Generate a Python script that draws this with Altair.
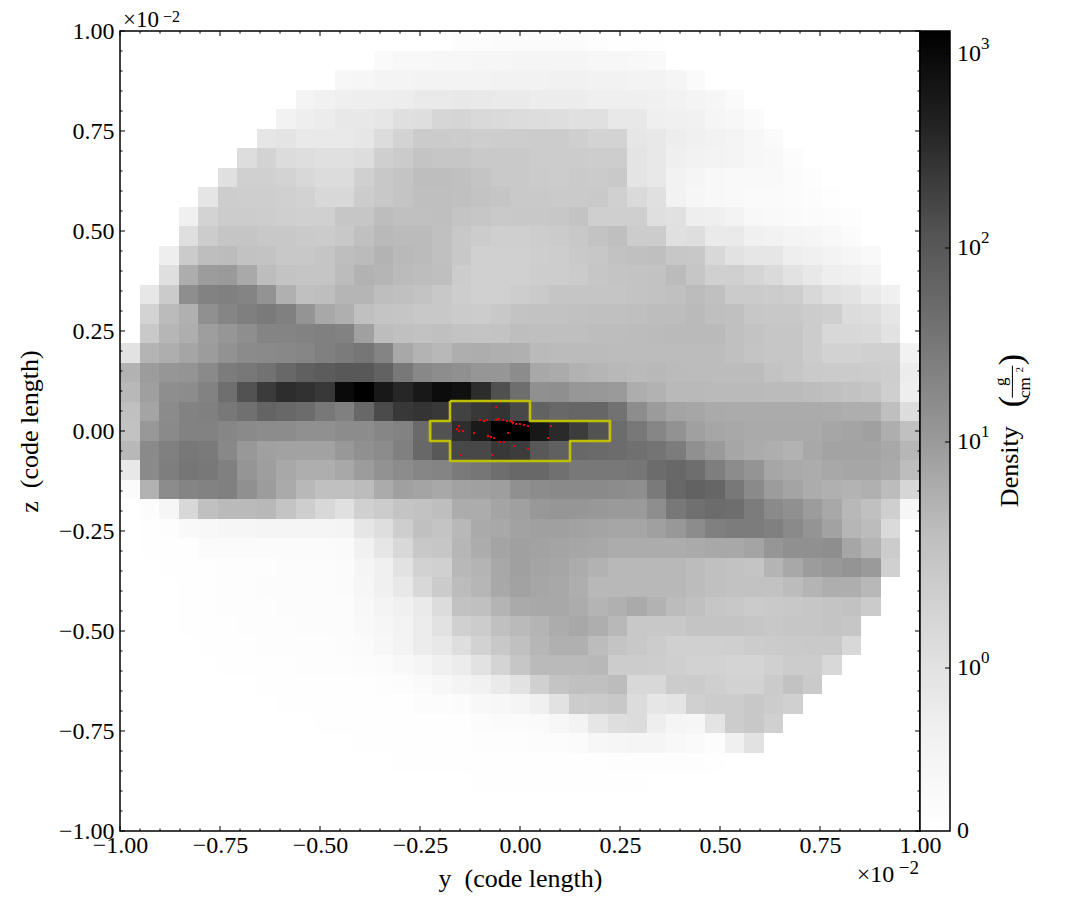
import numpy as np
import pandas as pd
import altair as alt

# Grey shades: (first column, shades); anything else is blank
row_00 = (17, [0xfc,0xfc,0xfb,0xfb,0xfb,0xfb,0xfb,0xfd,0xfe,0xfe,0xfe])
row_01 = (13, [0xfa,0xf8,0xf8,0xf7,0xf7,0xf6,0xf6,0xf5,0xf5,0xf5,0xf5,0xf7,0xf7,0xf8,0xf9])
row_02 = (11, [0xf7,0xf6,0xf4,0xf4,0xf3,0xf3,0xf3,0xf3,0xf2,0xf2,0xf2,0xf1,0xf1,0xf2,0xf2,0xf3,0xf3,0xf5,0xfa])
row_03 = (9, [0xf4,0xf1,0xef,0xee,0xee,0xed,0xea,0xea,0xe8,0xe9,0xea,0xea,0xec,0xec,0xec,0xef,0xef,0xef,0xf0,0xf2,0xf4,0xf6,0xfa])
row_04 = (8, [0xf2,0xee,0xec,0xe8,0xe8,0xe6,0xdf,0xde,0xd6,0xd5,0xd9,0xda,0xdc,0xdd,0xde,0xe0,0xe0,0xe8,0xe8,0xef,0xf0,0xf1,0xf5,0xf7,0xfa])
row_05 = (7, [0xe6,0xe4,0xe9,0xe9,0xe9,0xe6,0xdc,0xd3,0xcb,0xcb,0xcc,0xce,0xcd,0xcd,0xcc,0xcc,0xcf,0xd3,0xd3,0xe6,0xe8,0xed,0xf0,0xf2,0xf4,0xf7,0xfa])
row_06 = (6, [0xdd,0xd3,0xdc,0xde,0xe0,0xe0,0xdd,0xcf,0xcb,0xc4,0xc6,0xc6,0xc9,0xc9,0xc9,0xcc,0xcc,0xcc,0xcd,0xcd,0xe4,0xe8,0xef,0xf2,0xf3,0xf4,0xf7,0xf8,0xfc])
row_07 = (5, [0xe0,0xd0,0xd0,0xd3,0xd8,0xdc,0xdc,0xd0,0xc8,0xc4,0xbe,0xbe,0xc0,0xc4,0xc9,0xc9,0xcb,0xcc,0xca,0xcb,0xc9,0xe4,0xe8,0xf2,0xf5,0xf8,0xf9,0xf9,0xf9,0xfb,0xfd])
row_08 = (4, [0xe5,0xcd,0xce,0xce,0xd0,0xd2,0xd8,0xd8,0xcc,0xc8,0xc4,0xbf,0xbf,0xc0,0xc3,0xc5,0xc9,0xc9,0xca,0xca,0xc9,0xd0,0xda,0xe0,0xf2,0xf6,0xf8,0xf9,0xfa,0xfa,0xfb,0xfc,0xfe])
row_09 = (3, [0xf0,0xd3,0xcc,0xcc,0xcd,0xcf,0xd0,0xd0,0xc6,0xc6,0xbd,0xc0,0xc0,0xbf,0xc4,0xc6,0xc9,0xc8,0xc8,0xc7,0xc3,0xcf,0xcf,0xcf,0xdf,0xe1,0xee,0xef,0xf3,0xf8,0xf9,0xfa,0xfb,0xfc,0xfd])
row_10 = (3, [0xdf,0xcc,0xc5,0xc5,0xc8,0xc8,0xca,0xcb,0xc8,0xc0,0xb9,0xbb,0xbb,0xc0,0xc8,0xcc,0xcf,0xcf,0xcd,0xcb,0xc8,0xc3,0xbf,0xcc,0xcc,0xe0,0xde,0xea,0xea,0xf0,0xf2,0xf4,0xf5,0xf8,0xfb])
row_11 = (2, [0xee,0xcb,0xbe,0xbc,0xc2,0xc3,0xc8,0xc8,0xc5,0xbe,0xbb,0xb3,0xb9,0xbb,0xc0,0xc8,0xd0,0xd0,0xd0,0xce,0xcd,0xc9,0xc7,0xc2,0xc0,0xbf,0xc7,0xc8,0xd8,0xe2,0xe6,0xe6,0xee,0xf0,0xf3,0xf6,0xf9])
row_12 = (2, [0xdf,0xad,0x9c,0x9a,0xa9,0xbd,0xc3,0xc5,0xc5,0xbc,0xb2,0xb5,0xbb,0xbd,0xbf,0xcc,0xd0,0xd0,0xd0,0xcd,0xcd,0xcb,0xc6,0xc4,0xc3,0xc2,0xbb,0xc6,0xd0,0xd0,0xd5,0xda,0xe2,0xe8,0xee,0xf0,0xf3])
row_13 = (1, [0xe7,0xcb,0x8e,0x82,0x80,0x84,0x93,0xb0,0xc0,0xbe,0xb5,0xb5,0xbe,0xc0,0xc3,0xc8,0xcd,0xd0,0xd0,0xcd,0xca,0xc5,0xc5,0xc5,0xc5,0xc3,0xc2,0xc0,0xbc,0xc0,0xcb,0xcb,0xcc,0xce,0xd8,0xe0,0xe3,0xea,0xf0])
row_14 = (1, [0xd3,0xbb,0xb0,0x90,0x85,0x7f,0x7a,0x80,0x94,0xa8,0xaf,0xc0,0xc4,0xc5,0xc8,0xc8,0xcb,0xcc,0xc8,0xc3,0xc2,0xc2,0xc1,0xc0,0xc0,0xbf,0xbd,0xbd,0xba,0xbf,0xc0,0xc7,0xc8,0xc8,0xcc,0xcf,0xdc,0xde,0xe6])
row_15 = (1, [0xc9,0xb6,0xae,0x9e,0x96,0x8e,0x84,0x84,0x82,0x80,0x82,0xa0,0xbd,0xc0,0xc2,0xc0,0xc3,0xc4,0xc3,0xbe,0xbf,0xbf,0xbf,0xbd,0xbd,0xbc,0xbb,0xba,0xba,0xba,0xc0,0xc3,0xc6,0xc6,0xcc,0xd8,0xd8,0xda,0xe2])
row_16 = (0, [0xe2,0xb4,0xae,0xa5,0x9c,0x92,0x8b,0x8a,0x88,0x86,0x80,0x7b,0x76,0x84,0xa8,0xb3,0xb8,0xae,0xad,0xaf,0xb0,0xba,0xbb,0xbb,0xbb,0xbc,0xbc,0xbc,0xbc,0xbc,0xbc,0xc0,0xc4,0xc6,0xc6,0xcc,0xd2,0xd2,0xd0,0xd0,0xf2])
row_17 = (0, [0xb2,0x9c,0x96,0x94,0x8a,0x7c,0x78,0x72,0x68,0x60,0x5c,0x58,0x58,0x62,0x78,0x88,0x8d,0x90,0x96,0x96,0x8c,0xa8,0xab,0xb2,0xb5,0xb8,0xba,0xb8,0xbb,0xbc,0xbc,0xbc,0xbc,0xc3,0xc6,0xca,0xcb,0xcb,0xcc,0xce,0xec])
row_18 = (0, [0xb8,0x9f,0x8e,0x8c,0x82,0x6f,0x52,0x3b,0x2d,0x31,0x38,0x0a,0x00,0x18,0x26,0x18,0x0c,0x10,0x2c,0x50,0x6e,0x90,0x8f,0x97,0x98,0x9a,0xad,0xb2,0xb9,0xb9,0xba,0xba,0xba,0xbb,0xbb,0xbd,0xc0,0xc2,0xc5,0xcf,0xee])
row_19 = (0, [0xc0,0xa4,0x8b,0x82,0x80,0x78,0x70,0x64,0x68,0x6c,0x78,0x80,0x68,0x4b,0x38,0x34,0x38,0x42,0x38,0x34,0x48,0x62,0x68,0x66,0x66,0x72,0x8d,0x9b,0xa4,0xa6,0xaa,0xab,0xab,0xab,0xab,0xab,0xac,0xae,0xae,0xbf,0xdc])
row_20 = (0, [0xc2,0x98,0x8a,0x82,0x82,0x86,0x8a,0x8c,0x8c,0x90,0x90,0x8c,0x8c,0x86,0x82,0x6a,0x52,0x2e,0x1a,0x02,0x00,0x18,0x2a,0x3c,0x52,0x6c,0x78,0x86,0x92,0xa0,0xa6,0xa8,0xaa,0xaa,0xaa,0xaa,0xa6,0xa4,0xa0,0xae,0xc0])
row_21 = (0, [0xb8,0x8a,0x80,0x78,0x7a,0x88,0x98,0xa0,0xa2,0xa2,0xa2,0x98,0x90,0x8c,0x80,0x68,0x58,0x48,0x48,0x38,0x3c,0x58,0x60,0x68,0x6a,0x6c,0x70,0x74,0x7c,0x90,0x9a,0xa6,0xab,0xae,0xb2,0xa8,0xa3,0xa3,0xa3,0xa8,0xb6])
row_22 = (0, [0xe8,0x8a,0x7e,0x76,0x78,0x80,0x95,0x9e,0xa8,0xae,0xae,0xa8,0x9c,0x92,0x8c,0x86,0x84,0x7a,0x76,0x6e,0x68,0x68,0x70,0x78,0x78,0x78,0x76,0x6c,0x68,0x6e,0x7e,0x8c,0x94,0xa6,0xaa,0xac,0xa8,0xa6,0xa6,0xaa,0xbd])
row_23 = (0, [0xfb,0xb2,0x8c,0x84,0x82,0x80,0x90,0x9c,0xaa,0xb8,0xc0,0xc0,0xbc,0xab,0xa0,0xa4,0xa8,0xa2,0xa0,0x9e,0x90,0x8c,0x8a,0x8a,0x8a,0x8c,0x8e,0x7a,0x68,0x62,0x66,0x78,0x8a,0x9c,0xa4,0xac,0xb0,0xb3,0xb0,0xbc,0xd6])
row_24 = (1, [0xfc,0xf6,0xd8,0xc0,0xba,0xba,0xb8,0xc4,0xce,0xd8,0xe0,0xd0,0xcc,0xc4,0xc2,0xbe,0xac,0xac,0xa4,0xa0,0x98,0x96,0x96,0x98,0x9a,0x9a,0x8e,0x78,0x70,0x6c,0x6e,0x7c,0x8a,0x90,0x9c,0xa8,0xb8,0xc0,0xcf,0xf6])
row_25 = (1, [0xfe,0xfd,0xf9,0xf8,0xf6,0xf6,0xf5,0xf5,0xf5,0xf5,0xf4,0xe6,0xde,0xce,0xc0,0xc4,0xb8,0xaa,0xa8,0xa2,0xa0,0xa0,0xa2,0xa4,0xa6,0xa6,0xa0,0x98,0x8c,0x80,0x7c,0x7c,0x80,0x8a,0x94,0xa2,0xb6,0xbc,0xda])
row_26 = (1, [0xfe,0xfe,0xfe,0xfb,0xfb,0xfb,0xfb,0xfb,0xfb,0xfb,0xfa,0xf1,0xe6,0xd8,0xc8,0xc6,0xb6,0xac,0xa4,0xa0,0xa2,0xa4,0xa6,0xa8,0xac,0xac,0xac,0xac,0xaa,0xa8,0xa8,0xa4,0x96,0x90,0x90,0x8e,0xa6,0xb4,0xcc])
row_27 = (2, [0xfe,0xfe,0xfe,0xfd,0xfd,0xfd,0xfc,0xfc,0xfc,0xfb,0xf5,0xf0,0xe2,0xd2,0xd0,0xb8,0xb4,0xa8,0xa0,0xa4,0xa6,0xac,0xb2,0xb8,0xb8,0xb8,0xb8,0xbc,0xc0,0xc2,0xc4,0xb4,0xa8,0x9c,0x98,0x94,0x9a,0xd0])
row_28 = (3, [0xfe,0xfe,0xfd,0xfd,0xfc,0xfc,0xfc,0xfc,0xfb,0xf6,0xf0,0xe8,0xd8,0xcb,0xbc,0xb6,0xa8,0xa2,0xa6,0xa8,0xae,0xb8,0xb8,0xb8,0xb8,0xb8,0xbc,0xc0,0xc2,0xc2,0xc2,0xbc,0xb4,0xae,0xae,0xb8])
row_29 = (3, [0xfe,0xfe,0xfd,0xfd,0xfd,0xfc,0xfc,0xfc,0xfc,0xf8,0xf4,0xf0,0xea,0xdc,0xc2,0xc0,0xb4,0xaa,0xa8,0xa8,0xac,0xb4,0xb0,0xaa,0xb2,0xbc,0xc0,0xc6,0xc8,0xcb,0xc9,0xc8,0xc6,0xc4,0xc2,0xcb])
row_30 = (3, [0xfe,0xfe,0xfe,0xfd,0xfd,0xfd,0xfc,0xfc,0xfc,0xf9,0xf6,0xf3,0xec,0xe2,0xd0,0xcc,0xc0,0xba,0xb4,0xac,0xa8,0xae,0xb8,0xc8,0xc8,0xc8,0xc4,0xc4,0xc4,0xc6,0xc8,0xc6,0xc6,0xc4,0xc6])
row_31 = (4, [0xfe,0xfe,0xfe,0xfd,0xfd,0xfd,0xfd,0xfc,0xfb,0xf7,0xf3,0xec,0xe8,0xde,0xd2,0xc8,0xc0,0xb6,0xb0,0xb0,0xbc,0xc4,0xc8,0xcc,0xd0,0xd0,0xd0,0xcf,0xcc,0xcb,0xca,0xc9,0xc9,0xd8])
row_32 = (5, [0xfe,0xfe,0xfe,0xfe,0xfd,0xfd,0xfd,0xfc,0xfb,0xf8,0xf5,0xf0,0xec,0xe2,0xd4,0xc6,0xba,0xba,0xba,0xb8,0xcc,0xcc,0xcd,0xcf,0xd2,0xd2,0xd4,0xd4,0xd0,0xcc,0xcc,0xd8])
row_33 = (7, [0xfe,0xfe,0xfe,0xfe,0xfe,0xfe,0xfd,0xfc,0xfa,0xf7,0xf4,0xf1,0xea,0xe2,0xd0,0xc4,0xc0,0xc0,0xbc,0xd8,0xd8,0xcc,0xcb,0xcf,0xd2,0xd2,0xcb,0xc2,0xca])
row_34 = (8, [0xfe,0xfe,0xfe,0xfe,0xfe,0xfe,0xfe,0xfc,0xfc,0xfb,0xf8,0xf7,0xf5,0xf0,0xe2,0xcc,0xcb,0xc8,0xdc,0xe6,0xe4,0xd0,0xcc,0xcc,0xc8,0xcc,0xd0])
row_35 = (10, [0xfe,0xfe,0xfe,0xfe,0xfe,0xfe,0xfe,0xfe,0xfc,0xfb,0xfb,0xfa,0xf7,0xf3,0xe6,0xde,0xdc,0xee,0xf5,0xf6,0xe4,0xcc,0xc8,0xd0])
row_36 = (12, [0xfe,0xfe,0xfe,0xfe,0xfe,0xfe,0xfd,0xfd,0xfd,0xfc,0xfc,0xfb,0xf7,0xf6,0xf5,0xf5,0xf8,0xfa,0xfc,0xf0,0xe2])
row_37 = (14, [0xfe,0xfe,0xfe,0xfe,0xfe,0xfe,0xfe,0xfe,0xfe,0xfe,0xfe,0xfd,0xfd,0xfd,0xfd,0xfd,0xfe])
row_38 = (18, [0xfe,0xfe,0xfe,0xfe,0xfe,0xfe,0xfe,0xfe,0xfe])
row_39 = (0, [])
row_40 = (0, [])
shade_rows = [row_00,row_01,row_02,row_03,row_04,row_05,row_06,row_07,row_08,row_09,
              row_10,row_11,row_12,row_13,row_14,row_15,row_16,row_17,row_18,row_19,
              row_20,row_21,row_22,row_23,row_24,row_25,row_26,row_27,row_28,row_29,
              row_30,row_31,row_32,row_33,row_34,row_35,row_36,row_37,row_38,row_39,row_40]

# Grid outline corners, in units of 1e-2
outline_y = [-0.175,0.025,0.025,0.225,0.225,0.125,0.125,-0.175,-0.175,-0.225,-0.225,-0.175,-0.175]
outline_z = [0.075,0.075,0.025,0.025,-0.025,-0.025,-0.075,-0.075,-0.025,-0.025,0.025,0.025,0.075]

# Particles, in units of 1e-2
particle_y = [-0.0608,-0.1008,-0.0899,-0.0824,-0.0591,-0.0549,-0.0416,-0.0316,-0.0241,-0.0208,-0.0166,-0.0091,-0.0008,0.0092,0.0192,0.0776,-0.1524,-0.1574,-0.1524,-0.1424,-0.1149,-0.0299,-0.0799,-0.0724,-0.0649,-0.0499,-0.0399,0.0692,-0.0149,0.0201,-0.1508,-0.0708]
particle_z = [0.0599,0.0274,0.0258,0.0274,0.0282,0.0308,0.0282,0.0249,0.0249,0.0232,0.0207,0.0183,0.0166,0.0141,0.0133,0.0124,0.0116,0.0049,0.0008,-0.0001,-0.0042,-0.0051,-0.0126,-0.0151,-0.0176,-0.0267,-0.0276,-0.0184,-0.0384,-0.0442,-0.0601,-0.0601]

major_ticks = [-1.0,-0.75,-0.5,-0.25,0.0,0.25,0.5,0.75,1.0]
minor_ticks = [-0.95,-0.9,-0.85,-0.8,-0.7,-0.65,-0.6,-0.55,-0.45,-0.4,-0.35,-0.3,-0.2,-0.15,-0.1,-0.05,
               0.05,0.1,0.15,0.2,0.3,0.35,0.4,0.45,0.55,0.6,0.65,0.7,0.8,0.85,0.9,0.95]
bar_ticks = [1, 10, 100, 1000]
bar_exponents = ["0", "1", "2", "3"]

FONT = "Liberation Serif"
N = 41
LIN = 1.35        # end of the linear part of the colour norm
S_LIN = 0.2038    # norm per unit in the linear part
S_LOG = 0.2425    # norm per decade above it
GREYS = [255, 240, 217, 189, 150, 115, 82, 37, 0]
GREY_HEX = ["#%02x%02x%02x" % (g, g, g) for g in GREYS]
GREY_POS = [k / 8 for k in range(9)]


def norm(d):
    d = np.asarray(d, dtype=float)
    safe = np.maximum(d, LIN)
    return np.where(d <= LIN, d * S_LIN, S_LIN * LIN + S_LOG * np.log10(safe / LIN))


def inverse_norm(t):
    t = np.asarray(t, dtype=float)
    return np.where(t <= S_LIN * LIN, t / S_LIN, LIN * 10 ** ((t - S_LIN * LIN) / S_LOG))


def shade_to_density(shade):
    t = np.interp(shade, GREYS[::-1], np.linspace(1, 0, 9))
    return float(inverse_norm(t))


recs = []
for j in range(N):
    start, vals = shade_rows[j]
    for i in range(N):
        s = vals[i - start] if start <= i < start + len(vals) else 255
        recs.append({
            "y0": -1 + 2 * i / N, "y1": -1 + 2 * (i + 1) / N,
            "z0": 1 - 2 * (j + 1) / N, "z1": 1 - 2 * j / N,
            "density": shade_to_density(s),
        })
cells = pd.DataFrame(recs)
cells["t"] = norm(cells["density"])

X = alt.Scale(domain=[-1, 1], nice=False, zero=False, round=True)
Y = alt.Scale(domain=[-1, 1], nice=False, zero=False, round=True)
C = alt.Scale(domain=GREY_POS, range=GREY_HEX, interpolate="rgb", nice=False, zero=False)
LBL = "replace(format(datum.value, '.2f'), '-', '\u2212')"


def note(txt, px, py, size, angle=0, align="left", baseline="alphabetic"):
    return alt.Chart(pd.DataFrame({"s": [txt]})).mark_text(
        font=FONT, fontSize=size, angle=angle, align=align, baseline=baseline, color="black"
    ).encode(x=alt.value(px), y=alt.value(py), text="s:N")


def frame(w, h):
    return alt.Chart(pd.DataFrame({"s": ["frame"]})).mark_rect(
        fill="transparent", stroke="black", strokeWidth=1.5
    ).encode(x=alt.value(0), x2=alt.value(w), y=alt.value(0), y2=alt.value(h))


heat = alt.Chart(cells).mark_rect().encode(
    x=alt.X("y0:Q", scale=X, axis=alt.Axis(
        values=major_ticks, labelExpr=LBL, labelFont=FONT, labelFontSize=24, labelColor="black",
        ticks=False, domain=False, grid=False, labelPadding=2, labelOverlap=False, labelBound=False, labelFlush=False,
        title="y\u00a0\u00a0(code length)", titleFont=FONT, titleFontSize=26, titleFontWeight="normal",
        titleColor="black", titleX=400, titleY=55, titleBaseline="alphabetic")),
    x2="y1:Q",
    y=alt.Y("z0:Q", scale=Y, axis=alt.Axis(
        values=major_ticks, labelExpr=LBL, labelFont=FONT, labelFontSize=24, labelColor="black",
        ticks=False, domain=False, grid=False, labelPadding=6, labelOverlap=False, labelBound=False, labelFlush=False,
        title="z\u00a0\u00a0(code length)", titleFont=FONT, titleFontSize=26, titleFontWeight="normal",
        titleColor="black", titleX=-83, titleY=400, titleBaseline="alphabetic")),
    y2="z1:Q",
    color=alt.Color("t:Q", scale=C, legend=None),
)

outline = alt.Chart(pd.DataFrame({
    "y": outline_y,
    "z": outline_z,
    "o": list(range(len(outline_y))),
})).mark_line(color="#bfbf00", strokeWidth=2.6, strokeJoin="round").encode(
    x=alt.X("y:Q", scale=X), y=alt.Y("z:Q", scale=Y), order="o:Q")

dots = alt.Chart(pd.DataFrame({"y": particle_y, "z": particle_z})).mark_square(
    color="#e8000b", size=4, opacity=1).encode(x=alt.X("y:Q", scale=X), y=alt.Y("z:Q", scale=Y))


def tick_layers(values, length):
    df = pd.DataFrame({"v": values})
    base = alt.Chart(df).mark_rule(color="black", strokeWidth=1)
    return [
        base.encode(x=alt.X("v:Q", scale=X), y=alt.value(800), y2=alt.value(800 - length)),
        base.encode(x=alt.X("v:Q", scale=X), y=alt.value(0), y2=alt.value(length)),
        base.encode(y=alt.Y("v:Q", scale=Y), x=alt.value(0), x2=alt.value(length)),
        base.encode(y=alt.Y("v:Q", scale=Y), x=alt.value(800), x2=alt.value(800 - length)),
    ]


main = alt.layer(
    heat, outline, dots,
    *tick_layers(major_ticks, 5), *tick_layers(minor_ticks, 2.5),
    frame(800, 800),
    note("\u00d710", 3, -4.5, 23), note("\u22122", 43, -9, 16),
    note("\u00d710", 736.7, 851.4, 24), note("\u22122", 778.7, 842.7, 19),
).resolve_scale(color="shared").properties(width=800, height=800)

# Colour bar
edges = np.linspace(0, 1, 201)
bands = pd.DataFrame({"lo": edges[:-1], "hi": edges[1:], "t": (edges[:-1] + edges[1:]) / 2})
BAR = alt.Scale(domain=[0, 1], nice=False, zero=False, round=True)
bar_rect = alt.Chart(bands).mark_rect().encode(
    x=alt.value(0), x2=alt.value(30),
    y=alt.Y("lo:Q", scale=BAR, axis=None), y2="hi:Q",
    color=alt.Color("t:Q", scale=C, legend=None),
)
tick_df = pd.DataFrame({"d": bar_ticks, "e": bar_exponents, "p": norm(bar_ticks)})
bar_tick = alt.Chart(tick_df).mark_rule(color="black", strokeWidth=1).encode(
    y=alt.Y("p:Q", scale=BAR, axis=None), x=alt.value(25), x2=alt.value(30))
bar_ten = alt.Chart(tick_df).transform_calculate(b="'10'").mark_text(
    font=FONT, fontSize=24, align="left", baseline="middle", color="black"
).encode(y=alt.Y("p:Q", scale=BAR, axis=None), x=alt.value(37), text="b:N")
bar_exp = alt.Chart(tick_df).mark_text(
    font=FONT, fontSize=17, align="left", baseline="middle", color="black", dy=-10
).encode(y=alt.Y("p:Q", scale=BAR, axis=None), x=alt.value(61), text="e:N")

bar = alt.layer(
    bar_rect, bar_tick, frame(30, 800), bar_ten, bar_exp,
    note("0", 37, 800, 24, baseline="middle"),
    note("Density", 97.7, 435.7, 26, angle=270, align="center"),
    note("(", 101.7, 370.7, 34, angle=270, align="center"),
    note(")", 101.7, 328.7, 34, angle=270, align="center"),
    note("g", 86, 350.7, 17, angle=270, align="center"),
    note("cm", 110, 356.7, 17, angle=270, align="center"),
    note("2", 103, 338.7, 11, angle=270, align="center"),
    alt.Chart(pd.DataFrame({"s": ["bar"]})).mark_rule(color="black", strokeWidth=1).encode(
        x=alt.value(92.4), y=alt.value(334.7), y2=alt.value(366.7)),
).properties(width=30, height=800)

chart = alt.hconcat(main, bar, spacing=0, bounds="flush").resolve_scale(color="independent").properties(
    padding={"left": 8, "top": 0, "right": 5, "bottom": 5}
).configure_view(strokeWidth=0)

chart.save("out.html", embed_options={"renderer": "svg", "actions": False})
